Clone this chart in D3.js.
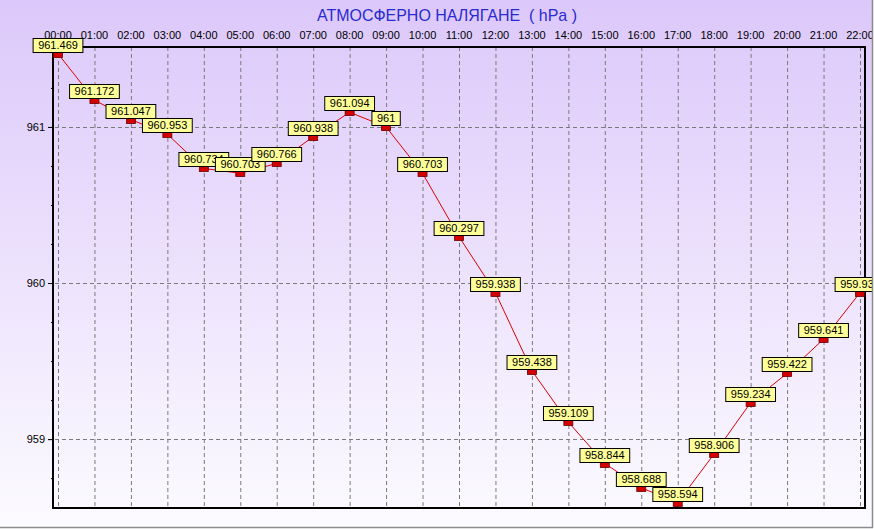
<!DOCTYPE html>
<html>
<head>
<meta charset="utf-8">
<script src="https://cdn.jsdelivr.net/npm/d3@7"></script>
<style>
  body { margin: 0; background: #fff; }
  text { font-family: Arial, "Liberation Sans", sans-serif; }
</style>
</head>
<body>
<div id="chart"></div>
<script>
const title = 'АТМОСФЕРНО НАЛЯГАНЕ  ( hPa )'
const hours = ['00:00', '01:00', '02:00', '03:00', '04:00', '05:00', '06:00', '07:00',
  '08:00', '09:00', '10:00', '11:00', '12:00', '13:00', '14:00', '15:00', '16:00',
  '17:00', '18:00', '19:00', '20:00', '21:00', '22:00']
const pressure = [961.469, 961.172, 961.047, 960.953, 960.734, 960.703, 960.766, 960.938,
  961.094, 961, 960.703, 960.297, 959.938, 959.438, 959.109, 958.844, 958.688,
  958.594, 958.906, 959.234, 959.422, 959.641, 959.938]
const yMajor = [959, 960, 961]
const yMinor = [958.75, 959.25, 959.5, 959.75, 960.25, 960.5, 960.75, 961.25, 961.5]

const W = 874, H = 529
const panelW = 872, panelH = 527
const plotL = 53, plotR = 865, plotT = 47, plotB = 508

const svg = d3.select('#chart').append('svg')
  .attr('width', W)
  .attr('height', H)

const defs = svg.append('defs')
const grad = defs.append('linearGradient')
  .attr('id', 'bg').attr('x1', 0).attr('y1', 0).attr('x2', 0).attr('y2', 1)
grad.append('stop').attr('offset', '0%').attr('stop-color', '#dcc8fa')
grad.append('stop').attr('offset', '100%').attr('stop-color', '#fcfbff')
defs.append('clipPath').attr('id', 'panel-clip')
  .append('rect').attr('width', panelW).attr('height', panelH)

const g = svg.append('g').attr('clip-path', 'url(#panel-clip)')
g.append('rect')
  .attr('width', panelW).attr('height', panelH)
  .attr('fill', 'url(#bg)')

// borders of the window
svg.append('line').attr('x1', panelW + 0.5).attr('x2', panelW + 0.5).attr('y1', 0).attr('y2', panelH + 1)
  .attr('stroke', '#8c8c8c').attr('stroke-width', 1.5)
svg.append('line').attr('x1', 0).attr('x2', panelW + 1).attr('y1', panelH + 0.5).attr('y2', panelH + 0.5)
  .attr('stroke', '#8c8c8c').attr('stroke-width', 1.5)

const x = d3.scalePoint().domain(hours).range([58, 860])
const y = d3.scaleLinear().domain([958.559, 961.512]).range([plotB, plotT])

g.append('text')
  .attr('x', 447).attr('y', 21)
  .attr('text-anchor', 'middle')
  .attr('font-size', 17)
  .attr('textLength', 260)
  .attr('lengthAdjust', 'spacingAndGlyphs')
  .attr('fill', '#2a2ad2')
  .style('white-space', 'pre')
  .text(title)

// grid
g.append('g').selectAll('line').data(hours).join('line')
  .attr('x1', d => x(d) + 0.5).attr('x2', d => x(d) + 0.5)
  .attr('y1', plotT).attr('y2', plotB)
  .attr('stroke', '#7a7a7a').attr('stroke-dasharray', '4,3')
g.append('g').selectAll('line').data(yMajor).join('line')
  .attr('x1', plotL - 5).attr('x2', plotR)
  .attr('y1', d => Math.round(y(d)) + 0.5).attr('y2', d => Math.round(y(d)) + 0.5)
  .attr('stroke', '#7a7a7a').attr('stroke-dasharray', '4,3')

// top hour labels
g.append('g').selectAll('text').data(hours).join('text')
  .attr('x', d => x(d)).attr('y', 39)
  .attr('text-anchor', 'middle')
  .attr('font-size', 11)
  .text(d => d)

// y axis
const yAxis = d3.axisLeft(y).tickValues(yMajor).tickSize(5).tickFormat(d3.format('d'))
const ya = g.append('g').attr('transform', `translate(${plotL},0)`).call(yAxis)
ya.select('.domain').remove()
ya.selectAll('text').attr('font-size', 11).attr('font-family', 'Arial, "Liberation Sans", sans-serif')
  .attr('fill', '#000').attr('x', -8)
ya.selectAll('line').attr('stroke', '#000')
g.append('g').attr('transform', `translate(${plotL},0)`)
  .call(d3.axisLeft(y).tickValues(yMinor).tickSize(2).tickFormat(''))
  .call(a => a.select('.domain').remove())

// plot frame
g.append('rect')
  .attr('x', plotL).attr('y', plotT)
  .attr('width', plotR - plotL).attr('height', plotB - plotT)
  .attr('fill', 'none').attr('stroke', '#000').attr('stroke-width', 2)

// line
const line = d3.line().x((d, i) => x(hours[i])).y(d => y(d))
g.append('path').datum(pressure)
  .attr('d', line)
  .attr('fill', 'none')
  .attr('stroke', '#e00000')
  .attr('stroke-width', 1)

// markers and labels
const pts = g.append('g').selectAll('g').data(pressure).join('g')
  .attr('transform', (d, i) => `translate(${x(hours[i])},${Math.round(y(d)) + 1})`)
pts.append('rect')
  .attr('x', -4.5).attr('y', -2.5).attr('width', 9).attr('height', 5)
  .attr('fill', '#d40000').attr('stroke', '#6a0000').attr('stroke-width', 0.8)
pts.each(function (d) {
  const node = d3.select(this)
  const t = node.append('text')
    .attr('text-anchor', 'middle')
    .attr('y', -6)
    .attr('font-size', 11)
    .text(d3.format('')(d))
  const w = t.node().getComputedTextLength() + 10
  node.insert('rect', 'text')
    .attr('x', -w / 2).attr('y', -16.5)
    .attr('width', w).attr('height', 14)
    .attr('fill', '#ffff99').attr('stroke', '#000').attr('stroke-width', 1)
})
</script>
</body>
</html>
